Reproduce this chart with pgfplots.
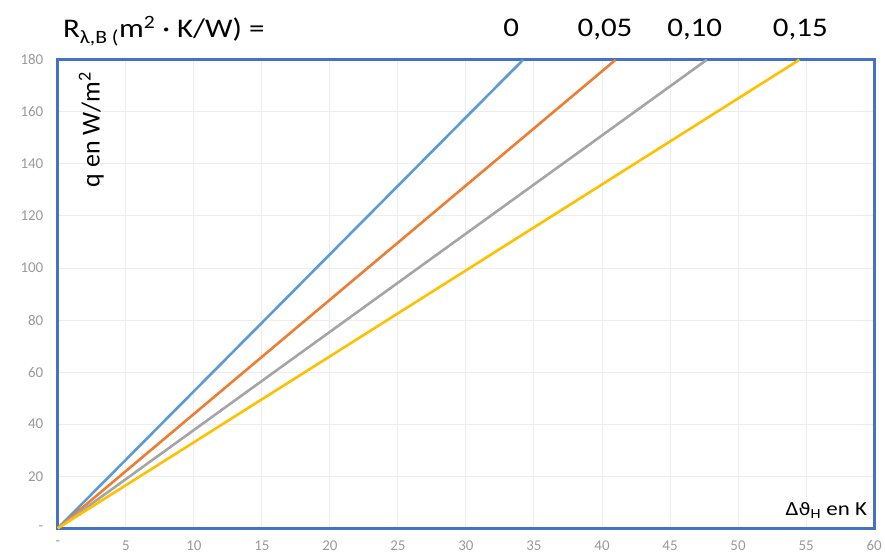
\documentclass[border=0pt]{standalone}
\usepackage{pgfplots}
\pgfplotsset{compat=1.18}
\usepackage{fontspec}
\setmainfont{Carlito}
\newfontfamily\dejavu{DejaVu Sans}
\definecolor{lblue}{RGB}{91,155,213}
\definecolor{lorange}{RGB}{237,125,49}
\definecolor{lgray}{RGB}{165,165,165}
\definecolor{lyellow}{RGB}{255,192,0}
\definecolor{axblue}{RGB}{68,114,196}
\begin{document}
\begin{tikzpicture}[x=1pt,y=1pt]
\path (-58,-27) rectangle (827,530);
\begin{axis}[at={(0,0)}, anchor=south west, scale only axis,
  width=819pt, height=470pt,
  xmin=0, xmax=60, ymin=0, ymax=180,
  xtick={0,5,...,60},
  xticklabels={-,5,10,15,20,25,30,35,40,45,50,55,60},
  ytick={0,20,...,180},
  yticklabels={-,20,40,60,80,100,120,140,160,180},
  grid=major,
  major grid style={draw=black!7, line width=1pt},
  axis line style={draw=axblue, line width=2.8pt},
  tick style={draw=none},
  ticklabel style={font=\fontsize{15}{15}\selectfont, text=black!40},
  xticklabel style={yshift=-9pt},
  yticklabel style={xshift=-11pt},
  clip=false]
\addplot[lblue, line width=2.6pt] coordinates {(0,0) (34.2,180)};
\addplot[lorange, line width=2.6pt] coordinates {(0,0) (41.0,180)};
\addplot[lgray, line width=2.6pt] coordinates {(0,0) (47.7,180)};
\addplot[lyellow, line width=2.6pt] coordinates {(0,0) (54.5,180)};
\end{axis}
\node[anchor=base west, font=\fontsize{27}{27}\selectfont, inner sep=0, xscale=1.15] at (5,492)
  {R\textsubscript{λ,B (}m\textsuperscript{2} · K/W) =};
\begin{scope}[every node/.style={font=\fontsize{27}{27}\selectfont, inner sep=0, anchor=base, xscale=1.15}]
\node at (455,493) {0};
\node at (549,493) {0,05};
\node at (639,493) {0,10};
\node at (745,493) {0,15};
\end{scope}
\node[rotate=90, font=\fontsize{26}{26}\selectfont, inner sep=0, anchor=base] at (42,400)
  {q en W/m\textsuperscript{2}};
\node[anchor=base east, font=\fontsize{20}{20}\selectfont, inner sep=0, xscale=1.15] at (812,13)
  {Δ{\dejavu\fontsize{17}{17}\selectfont ϑ}\textsubscript{H} en K};
\end{tikzpicture}
\end{document}
